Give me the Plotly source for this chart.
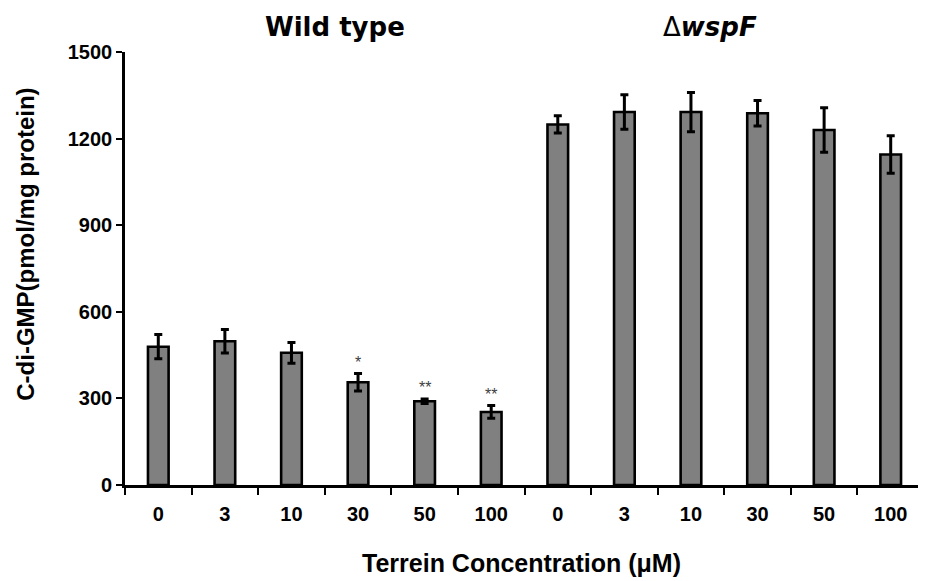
import plotly.graph_objects as go

groups = ["Wild type", "ΔwspF"]
conc_labels = ["0", "3", "10", "30", "50", "100", "0", "3", "10", "30", "50", "100"]
values = [479, 498, 458, 356, 290, 253, 1249, 1292, 1292, 1288, 1230, 1145]
errors = [42, 41, 36, 30, 8, 22, 30, 60, 68, 44, 77, 65]
sig = ["", "", "", "*", "**", "**", "", "", "", "", "", ""]

x = list(range(len(values)))

fig = go.Figure()
fig.add_trace(go.Bar(
    x=x, y=values, width=0.31,
    marker=dict(color="#808080", line=dict(color="black", width=2.6)),
    error_y=dict(type="data", array=errors, visible=True, color="black",
                 thickness=3, width=4),
    showlegend=False,
))

ann = []
for xi, v, e, s in zip(x, values, errors, sig):
    if s:
        ann.append(dict(x=xi, y=v + e, xref="x", yref="y", text=s, showarrow=False,
                        xanchor="center", yanchor="bottom", yshift=1,
                        font=dict(size=16, color="#404040", family="Liberation Sans")))

ann.append(dict(x=2.65, y=1.058, xref="x", yref="paper", text="<b>Wild type</b>",
                xanchor="center", yanchor="middle", showarrow=False,
                font=dict(size=26, family="DejaVu Sans", color="black")))
ann.append(dict(x=8.28, y=1.058, xref="x", yref="paper", text="Δ<b><i>wspF</i></b>",
                xanchor="center", yanchor="middle", showarrow=False,
                font=dict(size=26, family="DejaVu Sans", color="black")))
ann.append(dict(x=5.46, y=-0.18, xref="x", yref="paper",
                text="<b>Terrein Concentration (μM)</b>", showarrow=False,
                xanchor="center", yanchor="middle",
                font=dict(size=25, family="Liberation Sans", color="black")))
ann.append(dict(x=-0.124, y=0.557, xref="paper", yref="paper",
                text="<b>C-di-GMP(pmol/mg protein)</b>", textangle=-90, showarrow=False,
                xanchor="center", yanchor="middle",
                font=dict(size=24, family="Liberation Sans", color="black")))

fig.update_layout(
    width=926, height=581,
    margin=dict(l=117, r=10, t=44, b=104),
    plot_bgcolor="white", paper_bgcolor="white",
    annotations=ann,
    xaxis=dict(
        range=[-0.5, 11.5], tickmode="array", tickvals=x, ticktext=conc_labels,
        ticks="outside", ticklen=9, tickcolor="rgba(0,0,0,0)",
        showline=True, linecolor="black", linewidth=2.6, showgrid=False, zeroline=False,
        tickfont=dict(size=20, family="Liberation Sans", color="black", weight="bold"),
        minor=dict(tickmode="array", tickvals=[i - 0.5 for i in range(13)],
                   ticks="outside", ticklen=7, tickwidth=2.4, tickcolor="black", showgrid=False),
    ),
    yaxis=dict(
        range=[0, 1500], tickmode="linear", tick0=0, dtick=300,
        ticks="outside", ticklen=6, tickwidth=2.4, tickcolor="black",
        showline=True, linecolor="black", linewidth=2.6, showgrid=False, zeroline=False,
        tickfont=dict(size=20, family="Liberation Sans", color="black", weight="bold"),
    ),
)

fig.write_html("out.html")
